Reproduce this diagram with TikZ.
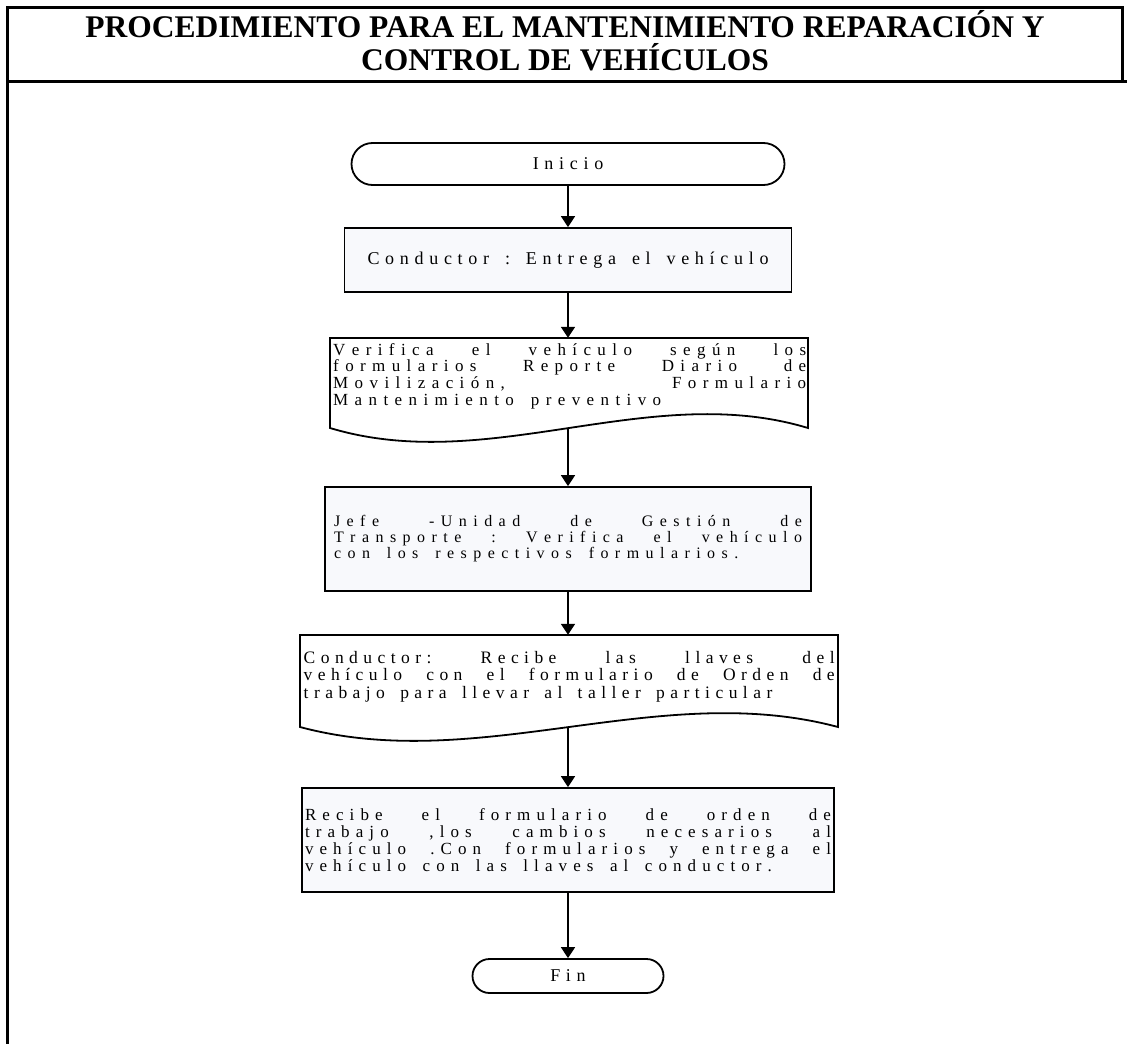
\documentclass[tikz,border=0pt]{standalone}
\usepackage{fontspec}
\setmainfont{Liberation Serif}
\usetikzlibrary{arrows.meta}

% ---- tracked (letter-spaced) text -------------------------------------
% every glyph is followed by \trkls, every word space is \trkws
\newdimen\trkls \trkls=5.5pt
\newskip\trkws  \trkws=10pt
\def\trkstop{\trkstop}
\def\trk#1{\trkA#1 \trkend\unkern}
\def\trkA#1 #2\trkend{\trkword{#1}%
  \if\relax\detokenize{#2}\relax\else\hskip\trkws\relax\trkA#2\trkend\fi}
\def\trkword#1{\trkB#1\trkstop}
\def\trkB#1{\ifx#1\trkstop\else#1\kern\trkls\expandafter\trkB\fi}
% a tracked line justified to the full text width
\newcommand\fullline[1]{\noindent\hbox to \hsize{%
  \trkws=\dimexpr0.25em+\trkls\relax plus 1fil\relax\trk{#1}}}
% flowchart text: size, line spacing, letter spacing
\newcommand\flowfmt[3]{\fontsize{#1}{#2}\selectfont
  \trkls=#3pt\relax \trkws=\dimexpr0.25em+\trkls\relax}

\definecolor{boxfill}{HTML}{F8F9FC}

\tikzset{
  frameline/.style={line width=3pt, line cap=rect},
  terminal/.style={draw, line width=1.8pt, fill=white, rounded corners=17pt,
                   font=\flowfmt{18}{20}{5.7}},
  process/.style={draw, line width=1.8pt, fill=boxfill, font=\flowfmt{18}{20}{5.7}},
  docarea/.style={inner sep=0pt},
  docline/.style={line width=1.8pt, fill=white, line join=miter},
  flowtext/.style={inner sep=0pt, align=left, anchor=north west},
  flow/.style={line width=1.8pt, -{Triangle[width=14pt,length=11pt]}},
}

\begin{document}
\begin{tikzpicture}[x=1pt, y=-1pt]
\useasboundingbox (0,0) rectangle (1127,1044);

% frame and title band
\draw[frameline] (7,1044) -- (7,7) -- (1122,7) -- (1122,81.5);
\draw[frameline] (7,81.5) -- (1125,81.5);
\node[align=center, inner sep=0pt, font=\bfseries\fontsize{31.5}{33}\selectfont] (title) at (565,41)
  {PROCEDIMIENTO PARA EL MANTENIMIENTO REPARACIÓN Y\\CONTROL DE VEHÍCULOS};

% start terminal
\node[terminal, minimum width=433pt, minimum height=42pt, rounded corners=21pt] (inicio) at (568,164)
  {\trk{Inicio}};

% step 1
\node[process, minimum width=447pt, minimum height=64pt] (entrega) at (568,260)
  {\trk{Conductor : Entrega el vehículo}};

% step 2 : document shape
\node[docarea, minimum width=478pt, minimum height=90pt] (verifica) at (568,383) {};
\draw[docline] (330,338) -- (808,338) -- (808,428)
  .. controls (649,380) and (489,476) .. (330,428) -- cycle;
\coordinate (verificaout) at (568,428);
\node[flowtext, text width=473pt, font=\flowfmt{17}{16.7}{6.4}] (verificatxt) at (333,343)
  {\fullline{Verifica el vehículo según los}\\
   \fullline{formularios Reporte Diario de}\\
   \fullline{Movilización, Formulario}\\
   \trk{Mantenimiento preventivo}};

% step 3
\node[process, minimum width=486pt, minimum height=104pt, text width=468pt, inner xsep=9pt,
      align=left, font=\flowfmt{16}{16}{6.45}] (jefe) at (568,539)
  {\fullline{Jefe -Unidad de Gestión de}\\
   \fullline{Transporte : Verifica el vehículo}\\
   \trk{con los respectivos formularios.}};

% step 4 : document shape
\node[docarea, minimum width=538pt, minimum height=92pt] (llaves) at (568,681) {};
\draw[docline] (300,635) -- (838,635) -- (838,727)
  .. controls (659,679) and (479,775) .. (300,727) -- cycle;
\coordinate (llavesout) at (568,727);
\node[flowtext, text width=531pt, font=\flowfmt{17.5}{17.5}{5.45}] (llavestxt) at (303.5,651)
  {\fullline{Conductor: Recibe las llaves del}\\
   \fullline{vehículo con el formulario de Orden de}\\
   \trk{trabajo para llevar al taller particular}};

% step 5
\node[process, minimum width=532pt, minimum height=104pt, text width=526pt, inner xsep=3pt,
      align=left, font=\flowfmt{17}{17}{6.1}] (taller) at (568,840)
  {\fullline{Recibe el formulario de orden de}\\
   \fullline{trabajo ,los cambios necesarios al}\\
   \fullline{vehículo .Con  formularios y entrega el}\\
   \trk{vehículo con las llaves al conductor.}};

% end terminal
\node[terminal, minimum width=191pt, minimum height=34pt] (fin) at (568,976) {\trk{Fin}};

% connectors
\draw[flow] (inicio.south) -- (entrega.north);
\draw[flow] (entrega.south) -- (verifica.north);
\draw[flow] (verificaout) -- (jefe.north);
\draw[flow] (jefe.south) -- (llaves.north);
\draw[flow] (llavesout) -- (taller.north);
\draw[flow] (taller.south) -- (fin.north);
\end{tikzpicture}
\end{document}
